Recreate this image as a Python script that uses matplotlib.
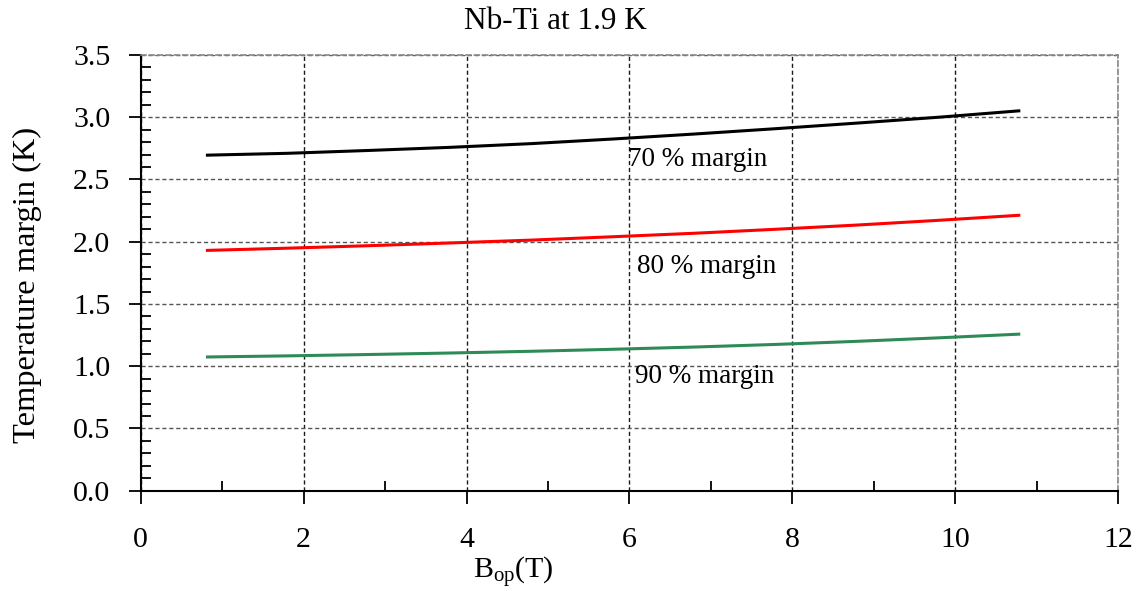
import numpy as np
import matplotlib.pyplot as plt
from matplotlib.ticker import MultipleLocator

plt.rcParams['font.family'] = ['Liberation Serif', 'DejaVu Serif']
plt.rcParams['mathtext.fontset'] = 'custom'
plt.rcParams['mathtext.rm'] = 'Liberation Serif'
plt.rcParams['mathtext.it'] = 'Liberation Serif:italic'

# operating field (T) and temperature margin (K) per load-line fraction
b_op = [0.8, 1.8, 2.8, 3.8, 4.8, 5.8, 6.8, 7.8, 8.8, 9.8, 10.8]
margin_70 = [2.695, 2.71, 2.733, 2.758, 2.788, 2.825, 2.865, 2.908, 2.953, 3.0, 3.052]
margin_80 = [1.93, 1.948, 1.968, 1.99, 2.013, 2.04, 2.068, 2.1, 2.134, 2.172, 2.213]
margin_90 = [1.074, 1.083, 1.094, 1.106, 1.12, 1.136, 1.154, 1.175, 1.2, 1.228, 1.258]

series = [
    (margin_70, 'black', '70 % margin', (5.98, 2.66)),
    (margin_80, 'red', '80 % margin', (6.09, 1.80)),
    (margin_90, '#2e8b57', '90 % margin', (6.07, 0.92)),
]

fig = plt.figure(figsize=(11.36, 5.91), dpi=100)
ax = fig.add_axes([0.1239, 0.1697, 0.8603, 0.7373])

for vals, col, label, pos in series:
    ax.plot(b_op, vals, color=col, lw=2.2, solid_capstyle='butt')
    ax.text(pos[0], pos[1], label, fontsize=19.5, ha='left', va='center')

ax.set_xlim(0, 12)
ax.set_ylim(0, 3.5)
ax.xaxis.set_major_locator(MultipleLocator(2))
ax.xaxis.set_minor_locator(MultipleLocator(1))
ax.yaxis.set_major_locator(MultipleLocator(0.5))
ax.yaxis.set_minor_locator(MultipleLocator(0.1))
ax.yaxis.set_major_formatter(plt.FormatStrFormatter('%.1f'))

ax.tick_params(axis='x', which='major', direction='out', length=9, width=1.3, pad=17, labelsize=21.5)
ax.tick_params(axis='y', which='major', direction='out', length=9, width=1.3, pad=13, labelsize=21.5)
ax.tick_params(which='minor', direction='in', length=7, width=1.3)

# vertical grid darker than horizontal
ax.xaxis.grid(True, which='major', color='#1a1a1a', linestyle=(0, (3, 2)), linewidth=1)
ax.yaxis.grid(True, which='major', color='#555555', linestyle=(0, (3, 2)), linewidth=1)
for side in ['left', 'bottom']:
    ax.spines[side].set_linewidth(1.5)
for side in ['top', 'right']:
    ax.spines[side].set_color('#888888')
    ax.spines[side].set_linestyle((0, (3, 2)))
    ax.spines[side].set_linewidth(1.2)

fig.text(0.4886, 0.963, 'Nb-Ti at 1.9 K', fontsize=22.5, ha='center', va='center')
fig.text(0.4516, 0.031, r'B$_{\mathrm{op}}$(T)', fontsize=21.5, ha='center', va='center')
fig.text(0.024, 0.518, 'Temperature margin (K)', fontsize=23.4, ha='center', va='center', rotation=90)

fig.savefig('out.png', dpi=100)
